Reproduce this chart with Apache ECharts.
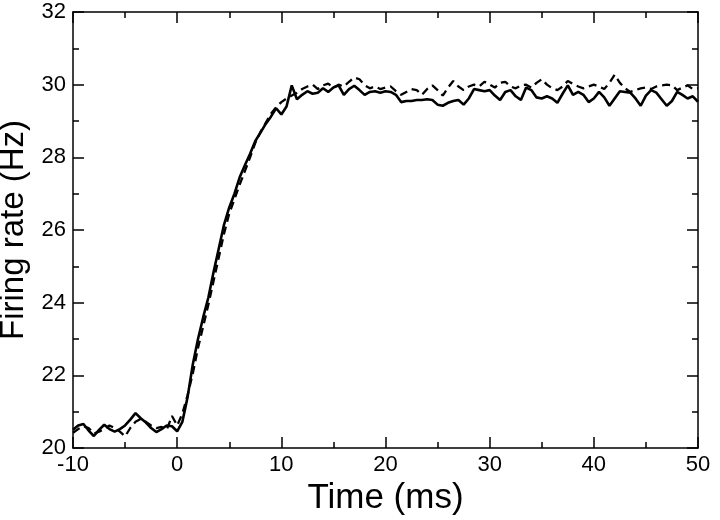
<!DOCTYPE html>
<html>
<head>
<meta charset="utf-8">
<script src="https://cdn.jsdelivr.net/npm/echarts@6/dist/echarts.min.js"></script>
<style>
html,body{margin:0;padding:0;background:#fff;}
#chart{width:720px;height:520px;}
</style>
</head>
<body>
<div id="chart"></div>
<script>
// Sample times: -10 ms to 50 ms every 0.5 ms
var tStart = -10, tStep = 0.5;

// Solid curve (Hz)
var solidRate = [
20.50,20.62,20.66,20.48,20.33,20.50,20.64,20.52,20.45,20.52,
20.62,20.78,20.96,20.82,20.70,20.55,20.44,20.52,20.62,20.60,
20.46,20.72,21.40,22.30,23.00,23.60,24.15,24.85,25.50,26.15,
26.62,27.00,27.45,27.78,28.10,28.45,28.68,28.92,29.12,29.35,
29.18,29.40,29.98,29.60,29.72,29.82,29.75,29.78,29.90,29.80,
29.92,29.98,29.72,29.88,29.97,29.85,29.72,29.80,29.82,29.78,
29.82,29.80,29.72,29.52,29.55,29.55,29.58,29.58,29.60,29.58,
29.45,29.42,29.50,29.55,29.58,29.45,29.62,29.88,29.85,29.82,
29.85,29.70,29.58,29.80,29.85,29.68,29.58,29.92,29.85,29.65,
29.62,29.68,29.62,29.50,29.75,29.98,29.72,29.80,29.72,29.52,
29.62,29.80,29.65,29.42,29.62,29.82,29.80,29.78,29.62,29.42,
29.70,29.85,29.78,29.60,29.42,29.55,29.80,29.72,29.62,29.68,
29.53
];

// Dashed curve (Hz)
var dashedRate = [
20.42,20.52,20.60,20.55,20.40,20.45,20.52,20.62,20.55,20.45,
20.32,20.55,20.72,20.80,20.72,20.62,20.55,20.58,20.50,20.88,
20.62,20.95,21.45,22.05,22.75,23.35,23.95,24.60,25.25,25.90,
26.45,26.85,27.25,27.62,28.00,28.40,28.70,28.95,29.20,29.38,
29.52,29.62,29.70,29.78,29.88,29.95,30.00,29.88,29.98,30.03,
29.92,30.00,29.95,30.08,30.20,30.15,29.98,29.90,29.95,29.88,
29.92,29.95,29.82,29.72,29.80,29.88,29.85,29.72,29.88,29.98,
29.85,29.70,29.92,30.10,29.95,29.85,29.95,30.00,29.95,30.08,
30.00,29.92,30.05,30.08,29.95,29.90,29.98,30.00,29.92,30.05,
30.15,30.00,29.90,29.85,29.95,30.10,30.02,29.95,29.90,29.95,
30.00,29.95,29.88,30.05,30.27,30.05,29.90,29.80,29.85,29.90,
29.92,29.88,29.95,29.98,30.00,29.98,29.85,29.92,29.98,29.88,
29.90
];

var xTicks = [-10, 0, 10, 20, 30, 40, 50];
var yTicks = [20, 22, 24, 26, 28, 30, 32];

function pairs(arr){
  var out = [];
  for (var i = 0; i < arr.length; i++) out.push([tStart + i * tStep, arr[i]]);
  return out;
}

var font = '"Liberation Sans", Arial, Helvetica, sans-serif';
var axisLine = {show:true, onZero:false, lineStyle:{color:'#000', width:1.5}};
var axisTick = {show:true, inside:true, length:11, lineStyle:{color:'#000', width:1.5}};
var minorTick = {show:true, splitNumber:2, length:6, lineStyle:{color:'#000', width:1.5}};

var chart = echarts.init(document.getElementById('chart'), null, {renderer:'canvas'});
chart.setOption({
  animation:false,
  backgroundColor:'#fff',
  grid:{left:73, right:22, top:12, bottom:72, containLabel:false, outerBoundsMode:'none'},
  xAxis:[{
    type:'value', min:xTicks[0], max:xTicks[xTicks.length-1], interval:10,
    position:'bottom',
    name:'Time (ms)', nameLocation:'middle', nameGap:28,
    nameTextStyle:{fontFamily:font, fontSize:35, color:'#000'},
    axisLine:axisLine, axisTick:axisTick, minorTick:minorTick,
    axisLabel:{fontFamily:font, fontSize:22, color:'#000', margin:6},
    splitLine:{show:false}
  },{
    type:'value', min:xTicks[0], max:xTicks[xTicks.length-1], interval:10,
    position:'top',
    axisLine:axisLine, axisTick:axisTick, minorTick:minorTick,
    axisLabel:{show:false}, splitLine:{show:false}
  }],
  yAxis:[{
    type:'value', min:yTicks[0], max:yTicks[yTicks.length-1], interval:2,
    position:'left',
    name:'Firing rate (Hz)', nameLocation:'middle', nameGap:31,
    nameTextStyle:{fontFamily:font, fontSize:33, color:'#000'},
    axisLine:axisLine, axisTick:axisTick, minorTick:minorTick,
    axisLabel:{fontFamily:font, fontSize:22, color:'#000', margin:7},
    splitLine:{show:false}
  },{
    type:'value', min:yTicks[0], max:yTicks[yTicks.length-1], interval:2,
    position:'right',
    axisLine:axisLine, axisTick:axisTick, minorTick:minorTick,
    axisLabel:{show:false}, splitLine:{show:false}
  }],
  series:[{
    type:'line', xAxisIndex:0, yAxisIndex:0, data:pairs(dashedRate),
    showSymbol:false, lineStyle:{color:'#000', width:2.3, type:[8,5]}
  },{
    type:'line', xAxisIndex:0, yAxisIndex:0, data:pairs(solidRate),
    showSymbol:false, lineStyle:{color:'#000', width:2.6}
  }]
});
</script>
</body>
</html>
